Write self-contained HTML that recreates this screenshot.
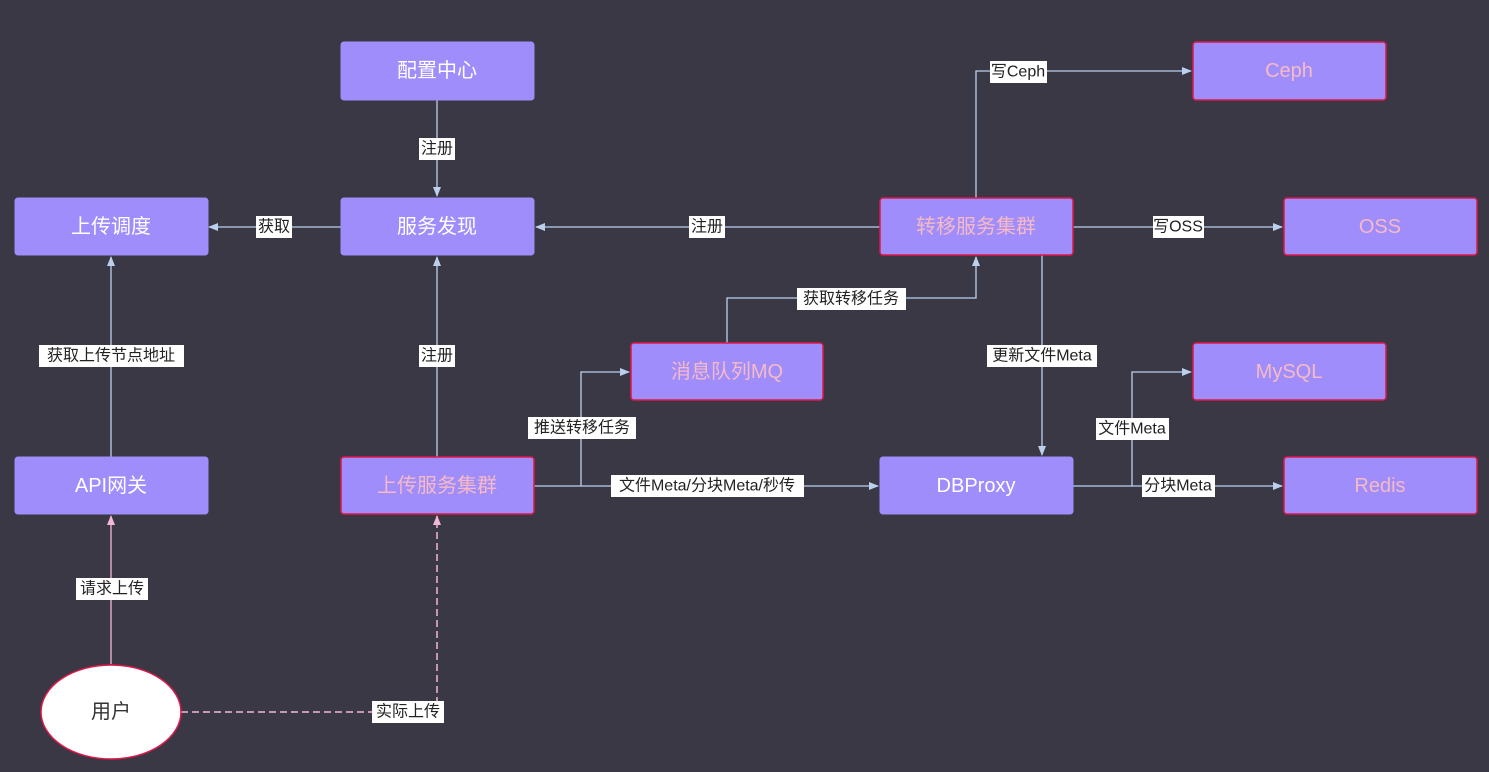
<!DOCTYPE html>
<html><head><meta charset="utf-8"><style>
html,body{margin:0;padding:0;background:#393844;}
svg{display:block}
text{font-family:"Liberation Sans","Noto Sans CJK SC",sans-serif;}
.n{fill:#9f8dfc;stroke:#9f8dfc;stroke-width:1}
.r{fill:#9f8dfc;stroke:#e0174a;stroke-width:1.5}
.tw{fill:#fff;font-size:20px;text-anchor:middle;dominant-baseline:central}
.tp{fill:#f7b9c4;font-size:20px;text-anchor:middle;dominant-baseline:central}
.e{stroke:#bcd0ee;stroke-width:1.3;fill:none}
.lb{fill:#fff}
.lt{fill:#222;font-size:16px;text-anchor:middle;dominant-baseline:central}
</style></head><body>
<svg width="1489" height="772" viewBox="0 0 1489 772">
<defs>
<marker id="a" markerWidth="10" markerHeight="8" refX="9" refY="4" orient="auto" markerUnits="userSpaceOnUse"><path d="M0,0 L10,4 L0,8 z" fill="#bcd0ee"/></marker>
<marker id="p" markerWidth="10" markerHeight="8" refX="9" refY="4" orient="auto" markerUnits="userSpaceOnUse"><path d="M0,0 L10,4 L0,8 z" fill="#f4b8d6"/></marker>
</defs>
<!-- edges -->
<path class="e" d="M437,100 V196" marker-end="url(#a)"/>
<path class="e" d="M341,227 H209" marker-end="url(#a)"/>
<path class="e" d="M880,227 H536" marker-end="url(#a)"/>
<path class="e" d="M437,457 V257" marker-end="url(#a)"/>
<path class="e" d="M111,457 V257" marker-end="url(#a)"/>
<path class="e" d="M976,198 V71 H1191" marker-end="url(#a)"/>
<path class="e" d="M1073,227 H1282" marker-end="url(#a)"/>
<path class="e" d="M727,343 V298 H976 V257" marker-end="url(#a)"/>
<path class="e" d="M534,486 H581 V372 H629" marker-end="url(#a)"/>
<path class="e" d="M581,486 H878" marker-end="url(#a)"/>
<path class="e" d="M1042,255 V455" marker-end="url(#a)"/>
<path class="e" d="M1073,486 H1132 V372 H1191" marker-end="url(#a)"/>
<path class="e" d="M1132,486 H1282" marker-end="url(#a)"/>
<path d="M111,664 V516" stroke="#f4b8d6" stroke-width="1.3" fill="none" marker-end="url(#p)"/>
<path d="M181,712 H437 V516" stroke="#f4b8d6" stroke-width="1.5" stroke-dasharray="7,4" fill="none" marker-end="url(#p)"/>
<!-- nodes -->
<rect class="n" x="341" y="42" width="193" height="58" rx="3"/><text class="tw" x="437" y="71">配置中心</text>
<rect class="n" x="15" y="198" width="193" height="57" rx="3"/><text class="tw" x="111" y="227">上传调度</text>
<rect class="n" x="341" y="198" width="193" height="57" rx="3"/><text class="tw" x="437" y="227">服务发现</text>
<rect class="r" x="880" y="198" width="193" height="57" rx="3"/><text class="tp" x="976" y="227">转移服务集群</text>
<rect class="r" x="1193" y="42" width="193" height="58" rx="3"/><text class="tp" x="1289" y="71">Ceph</text>
<rect class="r" x="1284" y="198" width="193" height="57" rx="3"/><text class="tp" x="1380" y="227">OSS</text>
<rect class="r" x="631" y="343" width="192" height="57" rx="3"/><text class="tp" x="727" y="372">消息队列MQ</text>
<rect class="r" x="1193" y="343" width="193" height="57" rx="3"/><text class="tp" x="1289" y="372">MySQL</text>
<rect class="n" x="15" y="457" width="193" height="57" rx="3"/><text class="tw" x="111" y="486">API网关</text>
<rect class="r" x="341" y="457" width="193" height="57" rx="3"/><text class="tp" x="437" y="486">上传服务集群</text>
<rect class="n" x="880" y="457" width="193" height="57" rx="3"/><text class="tw" x="976" y="486">DBProxy</text>
<rect class="r" x="1284" y="457" width="193" height="57" rx="3"/><text class="tp" x="1380" y="486">Redis</text>
<ellipse cx="111" cy="712" rx="70" ry="47" fill="#fff" stroke="#e0174a" stroke-width="1.5"/>
<text x="111" y="712" style="fill:#333;font-size:20px;text-anchor:middle;dominant-baseline:central">用户</text>
<!-- labels -->
<rect class="lb" x="419" y="138" width="36" height="22"/><text class="lt" x="437" y="149">注册</text>
<rect class="lb" x="256" y="216" width="36" height="22"/><text class="lt" x="274" y="227">获取</text>
<rect class="lb" x="689" y="216" width="36" height="22"/><text class="lt" x="707" y="227">注册</text>
<rect class="lb" x="419" y="345" width="36" height="22"/><text class="lt" x="437" y="356">注册</text>
<rect class="lb" x="39" y="345" width="145" height="22"/><text class="lt" x="111" y="356">获取上传节点地址</text>
<rect class="lb" x="990" y="61" width="57" height="22"/><text class="lt" x="1018" y="72">写Ceph</text>
<rect class="lb" x="1153" y="216" width="51" height="22"/><text class="lt" x="1178" y="227">写OSS</text>
<rect class="lb" x="797" y="288" width="109" height="22"/><text class="lt" x="851" y="299">获取转移任务</text>
<rect class="lb" x="987" y="345" width="110" height="22"/><text class="lt" x="1042" y="356">更新文件Meta</text>
<rect class="lb" x="528" y="417" width="108" height="22"/><text class="lt" x="582" y="428">推送转移任务</text>
<rect class="lb" x="1096" y="418" width="73" height="22"/><text class="lt" x="1132" y="429">文件Meta</text>
<rect class="lb" x="611" y="475" width="193" height="22"/><text class="lt" x="707" y="486">文件Meta/分块Meta/秒传</text>
<rect class="lb" x="1142" y="475" width="73" height="22"/><text class="lt" x="1178" y="486">分块Meta</text>
<rect class="lb" x="76" y="578" width="72" height="22"/><text class="lt" x="112" y="589">请求上传</text>
<rect class="lb" x="372" y="701" width="72" height="22"/><text class="lt" x="408" y="712">实际上传</text>
</svg>
</body></html>
